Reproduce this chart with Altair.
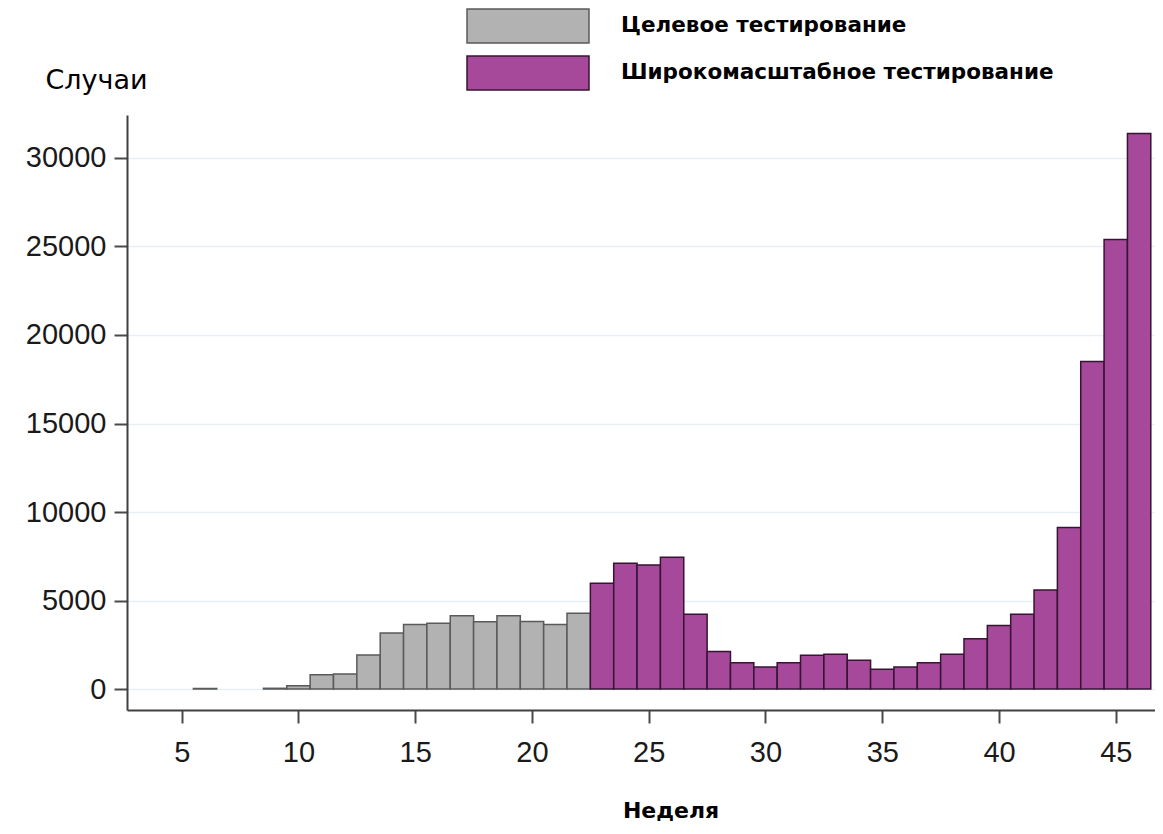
import altair as alt
import pandas as pd

# ---- data ----
targeted_weeks = [6, 9, 10, 11, 12, 13, 14, 15, 16, 17, 18, 19, 20, 21, 22]
targeted_cases = [30, 40, 190, 800, 850, 1920, 3160, 3650, 3710, 4140, 3800, 4140, 3820, 3650, 4280]

mass_weeks = [23, 24, 25, 26, 27, 28, 29, 30, 31, 32, 33, 34, 35, 36, 37, 38, 39, 40,
              41, 42, 43, 44, 45, 46]
mass_cases = [5970, 7100, 7000, 7440, 4220, 2120, 1490, 1240, 1490, 1910, 1970, 1620,
              1110, 1240, 1490, 1970, 2840, 3590, 4220, 5600, 9120, 18500, 25400, 31390]

series_names = ["Целевое тестирование", "Широкомасштабное тестирование"]
fill_colors = ["#b2b2b2", "#a6499a"]
stroke_colors = ["#5a5a5a", "#361432"]

x_ticks = [5, 10, 15, 20, 25, 30, 35, 40, 45]
y_ticks = [0, 5000, 10000, 15000, 20000, 25000, 30000]

df = pd.DataFrame({
    "week": targeted_weeks + mass_weeks,
    "cases": targeted_cases + mass_cases,
    "group": [series_names[0]] * len(targeted_weeks) + [series_names[1]] * len(mass_weeks),
})

legend = alt.Legend(
    title=None,
    orient="none",
    legendX=383,
    legendY=-107,
    direction="vertical",
    symbolType="M-3.588,-1H3.588V1H-3.588Z",
    symbolSize=1156,
    symbolStrokeWidth=1.5,
    labelFont="DejaVu Sans",
    labelFontSize=21.5,
    labelFontWeight="bold",
    labelColor="#000000",
    labelOffset=75,
    labelLimit=0,
    rowPadding=7,
    padding=0,
)

axis_common = dict(
    labelFont="Liberation Sans",
    labelFontSize=29,
    labelColor="#1a1a1a",
    tickSize=13,
    tickColor="#4a4a4a",
    tickWidth=2,
    domainColor="#404040",
    domainWidth=2,
    labelFlush=False,
    labelOverlap=False,
)

chart = (
    alt.Chart(df)
    .transform_calculate(x0="datum.week - 0.5", x1="datum.week + 0.5")
    .mark_bar(strokeWidth=1.5)
    .encode(
        x=alt.X(
            "x0:Q",
            scale=alt.Scale(domain=[2.657, 46.68], nice=False, zero=False),
            axis=alt.Axis(
                values=x_ticks,
                format="d",
                grid=False,
                labelPadding=15,
                title="Неделя",
                titleX=543.5,
                titleY=107,
                titleAlign="center",
                titleBaseline="alphabetic",
                titleFont="DejaVu Sans",
                titleFontSize=22,
                titleFontWeight="bold",
                titleColor="#000000",
                **axis_common,
            ),
        ),
        x2="x1:Q",
        y=alt.Y(
            "cases:Q",
            scale=alt.Scale(domain=[-1186, 32429], nice=False, zero=False),
            axis=alt.Axis(
                values=y_ticks,
                format="d",
                grid=True,
                gridColor="#e6eff1",
                gridWidth=1.5,
                labelPadding=8,
                title="Случаи",
                titleAngle=0,
                titleX=-82,
                titleY=-26.5,
                titleAlign="left",
                titleBaseline="alphabetic",
                titleFont="DejaVu Sans",
                titleFontSize=27,
                titleFontWeight="normal",
                titleColor="#000000",
                **axis_common,
            ),
        ),
        y2=alt.datum(0),
        fill=alt.Fill("group:N", scale=alt.Scale(domain=series_names, range=fill_colors), legend=legend),
        stroke=alt.Stroke("group:N", scale=alt.Scale(domain=series_names, range=stroke_colors), legend=legend),
    )
    .properties(
        width=1028,
        height=595,
        autosize=alt.AutoSizeParams(type="none"),
        padding={"left": 119, "top": 107, "right": 0, "bottom": 112},
        background="#ffffff",
    )
    .configure_view(stroke="transparent")
)

chart.save("out.html", embed_options={"renderer": "svg", "actions": False})
